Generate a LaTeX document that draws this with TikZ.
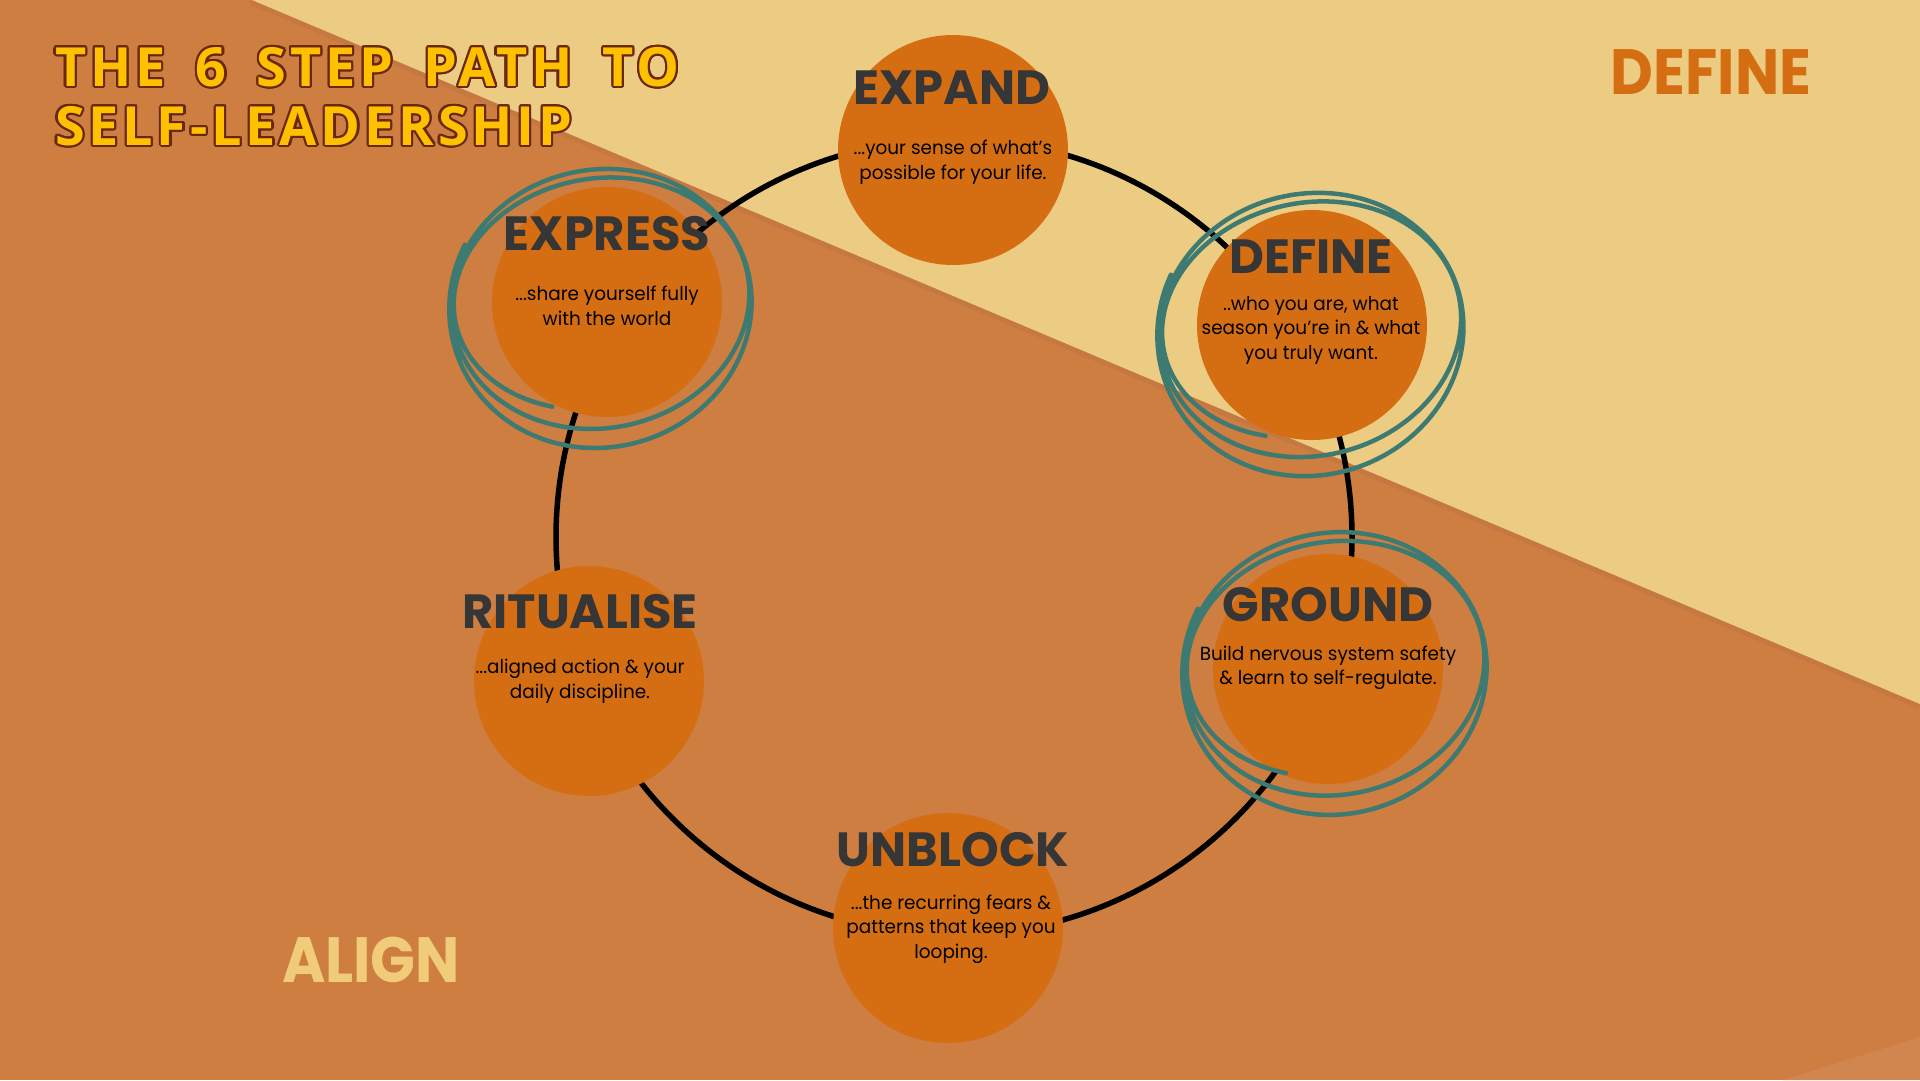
\documentclass[tikz,border=0pt]{standalone}
\usepackage{fontspec}
\usepackage[copies]{contour}
\usetikzlibrary{positioning,calc}
\setmainfont{Poppins}
\newfontfamily\headfont{Poppins}
\newfontfamily\cornerfont{Poppins}[FakeStretch=0.92]
\newfontfamily\notefont{Poppins}[FakeStretch=0.97]
\newfontfamily\titlefont{Open Sans}[LetterSpace=7,WordSpace=1.7]
\definecolor{rust}{RGB}{205,126,64}
\definecolor{rustlight}{RGB}{209,134,80}
\definecolor{seam}{RGB}{198,120,66}
\definecolor{sand}{RGB}{236,204,130}
\definecolor{pumpkin}{RGB}{213,110,19}
\definecolor{scribteal}{RGB}{60,122,114}
\definecolor{charcoal}{RGB}{54,54,54}
\definecolor{titlegold}{RGB}{255,192,0}
\definecolor{titlebrown}{RGB}{105,40,18}
\definecolor{paleamber}{RGB}{240,204,122}
\contourlength{2.2pt}
\tikzset{
  stepdisc/.style={circle,fill=pumpkin,minimum size=230pt,inner sep=0pt},
  stephead/.style={inner sep=0pt,text=charcoal,
    font=\headfont\bfseries\fontsize{48}{50}\selectfont},
  stepnote/.style={inner sep=0pt,align=center,text=black,
    font=\notefont\fontsize{19}{24.5}\selectfont},
  ringline/.style={line width=5.5pt,draw=black},
  scribble/.style={line width=4.5pt,draw=scribteal,line cap=round},
  cornerword/.style={inner sep=0pt,font=\cornerfont\bfseries\fontsize{64}{64}\selectfont},
}
% hand drawn loop round a disc: centre x, centre y, x radius, y radius, tilt
\newcommand{\scribbleloop}[5]{%
  \draw[scribble] plot[smooth,samples=150,domain=0:1,variable=\t]
    ({#1+#3*(1-0.03*\t)*cos(214-820*\t)*cos(#5)-#4*(1-0.22*\t)*sin(214-820*\t)*sin(#5)},
     {#2-12*\t+#3*(1-0.03*\t)*cos(214-820*\t)*sin(#5)+#4*(1-0.22*\t)*sin(214-820*\t)*cos(#5)});}

\begin{document}
\begin{tikzpicture}[x=1pt,y=-1pt]
  \useasboundingbox (0,0) rectangle (1920,1080);
  % background
  \fill[rust] (0,0) rectangle (1920,1080);
  \fill[rustlight] (1783,1080) -- (1920,1037) -- (1920,1080) -- cycle;
  \draw[seam,line width=10pt] (252,0) -- (1920,704);
  \fill[sand] (252,0) -- (1920,0) -- (1920,704) -- cycle;

  % the path
  \coordinate (hub) at (954,537);
  \draw[ringline] (hub) circle[radius=398];

  \node[stepdisc] (expand) at (953,150) {};
  \node[stepdisc] (define) at (1312,325) {};
  \node[stepdisc] (ground) at (1328,669) {};
  \node[stepdisc] (unblock) at (948,928) {};
  \node[stepdisc] (ritualise) at (589,681) {};
  \node[stepdisc] (express) at (607,302) {};

  \scribbleloop{601}{308}{152}{146}{-8}
  \scribbleloop{1311}{334}{154}{148}{-10}
  \scribbleloop{1335}{673}{153}{148}{-8}

  \node[stephead] (expandhead) at ($(expand)+(-1,-62)$) {EXPAND};
  \node[stepnote] (expandnote) at ($(expand)+(0,12)$)
    {...your sense of what’s\\possible for your life.};
  \node[stephead] (definehead) at ($(define)+(-1,-68)$) {DEFINE};
  \node[stepnote] (definenote) at ($(define)+(-1,5)$)
    {..who you are, what\\season you’re in \& what\\you truly want.};
  \node[stephead] (groundhead) at ($(ground)+(0,-64)$) {GROUND};
  \node[stepnote] (groundnote) at ($(ground)+(0,-1)$)
    {Build nervous system safety\\\& learn to self-regulate.};
  \node[stephead] (unblockhead) at ($(unblock)+(5,-78)$) {UNBLOCK};
  \node[stepnote] (unblocknote) at ($(unblock)+(3,1)$)
    {...the recurring fears \&\\patterns that keep you\\looping.};
  \node[stephead] (ritualisehead) at ($(ritualise)+(-9,-69)$) {RITUALISE};
  \node[stepnote] (ritualisenote) at ($(ritualise)+(-9,0)$)
    {...aligned action \& your\\daily discipline.};
  \node[stephead] (expresshead) at ($(express)+(0,-68)$) {EXPRESS};
  \node[stepnote] (expressnote) at ($(express)+(0,4)$)
    {...share yourself fully\\with the world};

  % headings
  \node[inner sep=0pt,anchor=north west,align=left,text=titlegold,
    font=\titlefont\bfseries\fontsize{54}{59}\selectfont] (title) at (55,47)
    {\contour{titlebrown}{THE 6 STEP PATH TO}\\\contour{titlebrown}{SELF-LEADERSHIP}};
  \node[cornerword,text=pumpkin] (defineword) at (1711,72) {DEFINE};
  \node[cornerword,text=paleamber] (alignword) at (371,960) {ALIGN};
\end{tikzpicture}
\end{document}
